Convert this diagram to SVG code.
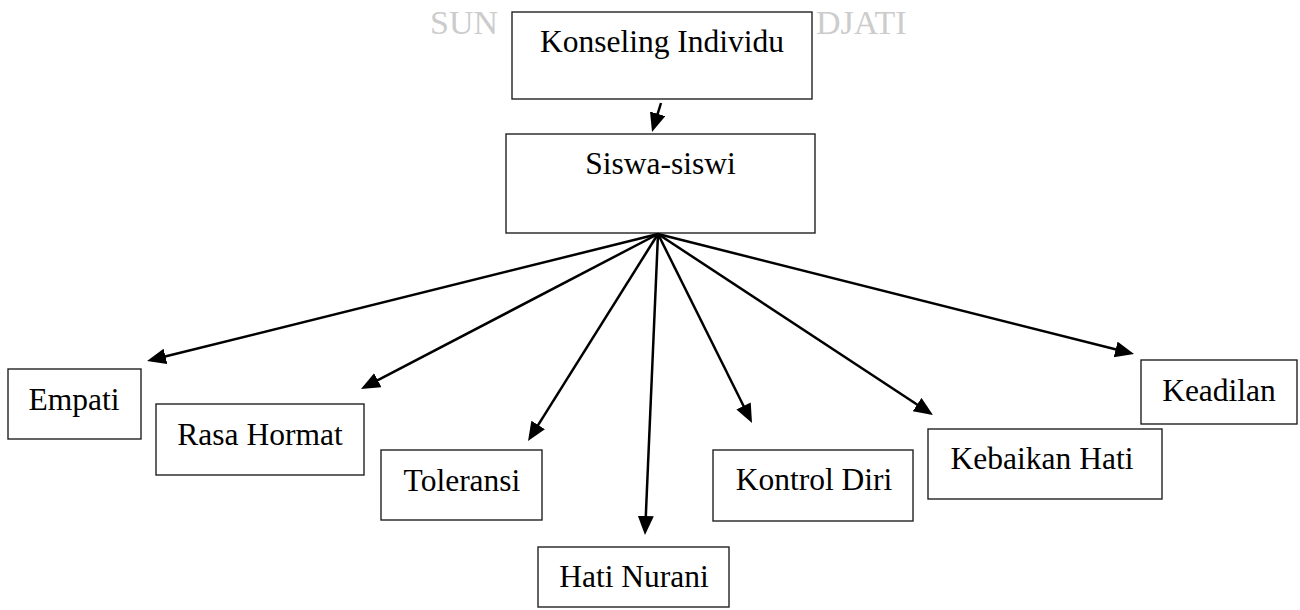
<svg xmlns="http://www.w3.org/2000/svg" width="1300" height="610" viewBox="0 0 1300 610">
<style>
.box{fill:#fff;stroke:#222;stroke-width:1.4}
.lbl{font-family:"Liberation Serif","Times New Roman",serif;font-size:31.5px;fill:#000;text-anchor:middle}
.wm{font-family:"Liberation Serif","Times New Roman",serif;font-size:34px;fill:#cccccc}
.con line{stroke:#000;stroke-width:2.5;marker-end:url(#ah)}
</style>
<defs>
<marker id="ah" markerUnits="userSpaceOnUse" markerWidth="20" markerHeight="18" viewBox="0 0 20 18" refX="14" refY="8" orient="auto">
<path d="M0,0 L19,8 L0,16 z" fill="#000"/>
</marker>
</defs>
<rect width="1300" height="610" fill="#fff"/>
<g id="watermark">
<text class="wm" x="498" y="34" text-anchor="end">SUN</text>
<text class="wm" x="816" y="34">DJATI</text>
</g>
<g id="n-konseling"><rect class="box" x="512" y="12" width="300" height="87"/><text class="lbl" x="662" y="52">Konseling Individu</text></g>
<g id="n-siswa"><rect class="box" x="506" y="134" width="309" height="99"/><text class="lbl" x="660.5" y="174">Siswa-siswi</text></g>
<g id="n-empati"><rect class="box" x="8" y="369" width="133" height="70"/><text class="lbl" x="74" y="410">Empati</text></g>
<g id="n-rasa"><rect class="box" x="156" y="404" width="208" height="71"/><text class="lbl" x="260" y="445">Rasa Hormat</text></g>
<g id="n-toleransi"><rect class="box" x="381" y="450" width="161" height="70"/><text class="lbl" x="462" y="491">Toleransi</text></g>
<g id="n-hati"><rect class="box" x="538" y="547" width="191" height="60"/><text class="lbl" x="634" y="587">Hati Nurani</text></g>
<g id="n-kontrol"><rect class="box" x="713" y="450" width="200" height="71"/><text class="lbl" x="814" y="490">Kontrol Diri</text></g>
<g id="n-kebaikan"><rect class="box" x="928" y="429" width="234" height="70"/><text class="lbl" x="1042" y="469">Kebaikan Hati</text></g>
<g id="n-keadilan"><rect class="box" x="1141" y="360" width="156" height="64"/><text class="lbl" x="1219" y="401">Keadilan</text></g>
<g class="con" id="connectors">
<line x1="661" y1="103" x2="653.5" y2="127.2"/>
<line x1="658" y1="234" x2="151.9" y2="359.8"/>
<line x1="658" y1="234" x2="365.4" y2="386.7"/>
<line x1="658" y1="234" x2="530.7" y2="436.8"/>
<line x1="658" y1="234" x2="645.2" y2="530"/>
<line x1="658" y1="234" x2="749.8" y2="418.5"/>
<line x1="658" y1="234" x2="928.8" y2="412.3"/>
<line x1="658" y1="234" x2="1129.2" y2="352.8"/>
</g>
</svg>
